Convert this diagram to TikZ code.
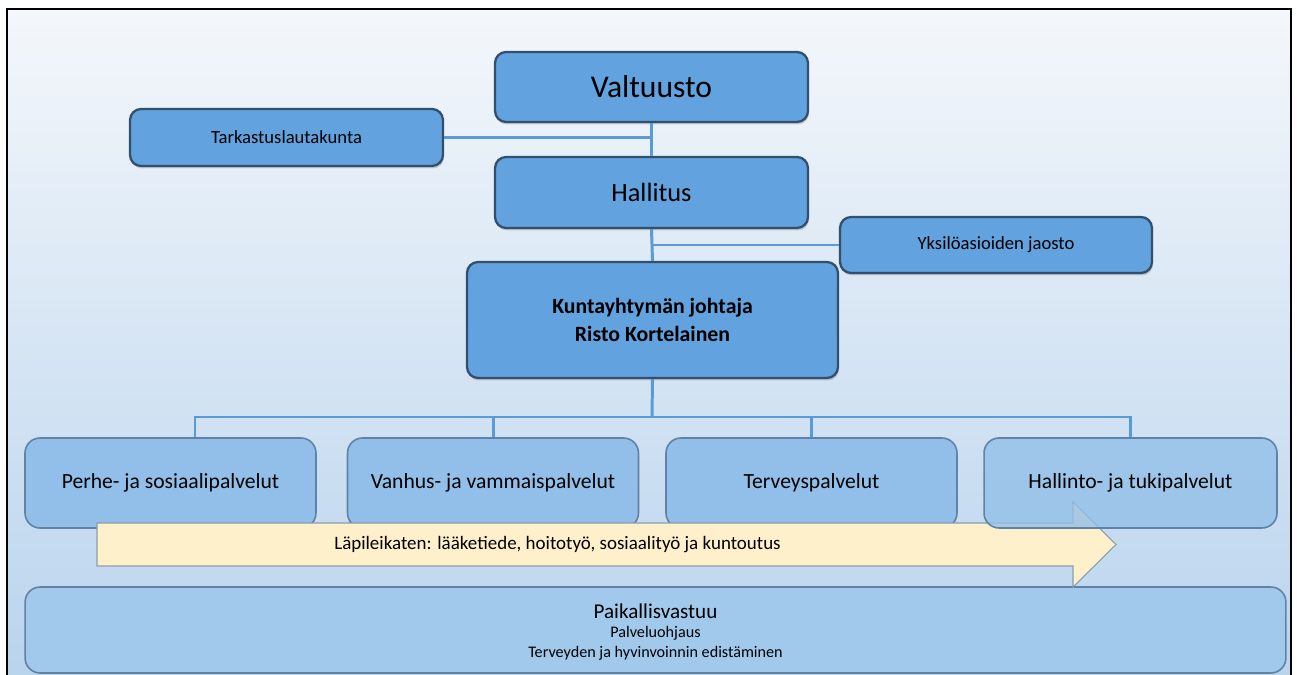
\documentclass[tikz,border=0pt]{standalone}
\usepackage{fontspec}
\setmainfont{Carlito}
\usetikzlibrary{positioning,shadows}

\definecolor{boxblue}{HTML}{62A2DE}
\definecolor{boxedge}{HTML}{32506E}
\definecolor{unitblue}{HTML}{91BFE9}
\definecolor{unitedge}{HTML}{5F82A6}
\definecolor{baseblue}{HTML}{A0C9EC}
\definecolor{linkblue}{HTML}{5B9BD5}
\definecolor{arrowfill}{HTML}{FFF0CC}
\definecolor{arrowedge}{HTML}{8C9CAC}
\definecolor{bgtop}{HTML}{F4F7FB}
\definecolor{bgbottom}{HTML}{B8D3ED}

\begin{document}
\begin{tikzpicture}[
    x=0.02cm, y=-0.02cm,
    organ/.style={draw=boxedge, line width=1.3pt, fill=boxblue, rounded corners=0.22cm,
        drop shadow={shadow xshift=0.02cm, shadow yshift=-0.05cm, opacity=0.35}},
    unit/.style={draw=unitedge, line width=0.9pt, fill=unitblue, rounded corners=0.3cm,
        minimum width=5.82cm, minimum height=1.8cm, font=\fontsize{12.3}{14}\selectfont},
    link/.style={draw=linkblue, line width=1.7pt},
]
\useasboundingbox (0,0) rectangle (1297,675);
\clip (0,0) rectangle (1297,675);

% slide background
\fill[white] (0,0) rectangle (1297,675);
\shade[top color=bgtop, bottom color=bgbottom] (7,9) rectangle (1291,690);
\draw[line width=1.2pt] (7,690) -- (7,9) -- (1291,9) -- (1291,690);

% top level
\node[organ, minimum width=6.26cm, minimum height=1.4cm, font=\fontsize{18}{21}\selectfont]
    (valtuusto) at (651.5,87) {Valtuusto};
\node[organ, minimum width=6.26cm, minimum height=1.42cm, font=\fontsize{15}{18}\selectfont]
    (hallitus) at (651.5,192.5) {Hallitus};
\node[organ, minimum width=6.26cm, minimum height=1.14cm, font=\fontsize{10.6}{13}\selectfont]
    (tarkastus) at (286.5,137.5) {Tarkastuslautakunta};
\node[organ, minimum width=6.24cm, minimum height=1.12cm, font=\fontsize{10.6}{13}\selectfont]
    (jaosto) at (996,245) {Yksilöasioiden jaosto};
\node[organ, minimum width=7.42cm, minimum height=2.32cm, align=center,
    font=\fontsize{12.4}{15.5}\selectfont\bfseries]
    (johtaja) at (652.5,320) {Kuntayhtymän johtaja\\Risto Kortelainen};

% connectors above the director
\draw[link] (valtuusto.south) -- (hallitus.north);
\draw[link] (tarkastus.east) -- (tarkastus.east -| valtuusto.south);
\draw[link] (hallitus.south) -- (johtaja.north);
\draw[link] (jaosto.west) -- (jaosto.west -| hallitus.south);

% service units
\node[unit] (perhe) at (170.5,483) {Perhe- ja sosiaalipalvelut};
\node[unit] (vanhus) at (493,483) {Vanhus- ja vammaispalvelut};
\node[unit] (terveys) at (811.5,483) {Terveyspalvelut};

\coordinate (bus) at (652,417);
\draw[link] (johtaja.south) -- (bus);
\draw[link] ([xshift=0.49cm]perhe.north) |- (bus) -| (1130.5,438);
\draw[link] (vanhus.north) -- (vanhus.north |- bus);
\draw[link] (terveys.north) -- (terveys.north |- bus);

% local responsibility
\node[unit, fill=baseblue, minimum width=25.22cm, minimum height=1.72cm, font=\normalsize]
    (paikallis) at (655.5,630) {};
\node[font=\fontsize{12}{14}\selectfont] (vastuu) at (655.5,611) {Paikallisvastuu};
\node[font=\fontsize{9.2}{11}\selectfont] (ohjaus) at (655.5,633) {Palveluohjaus};
\node[font=\fontsize{9.2}{11}\selectfont] (edistys) at (655.5,653) {Terveyden ja hyvinvoinnin edistäminen};

% cross-cutting arrow
\draw[draw=arrowedge, line width=0.6pt, fill=arrowfill]
    (97,523) -- (1073,523) -- (1073,502) -- (1116,544.5) -- (1073,587) -- (1073,566) -- (97,566) -- cycle;
\node[font=\fontsize{10.8}{13}\selectfont] (poikki) at (557.5,545)
    {Läpileikaten: lääketiede, hoitotyö, sosiaalityö ja kuntoutus};

\node[unit, fill opacity=0.78, text opacity=1, minimum width=5.86cm] (hallinto) at (1130.5,483)
    {Hallinto- ja tukipalvelut};
\end{tikzpicture}
\end{document}
